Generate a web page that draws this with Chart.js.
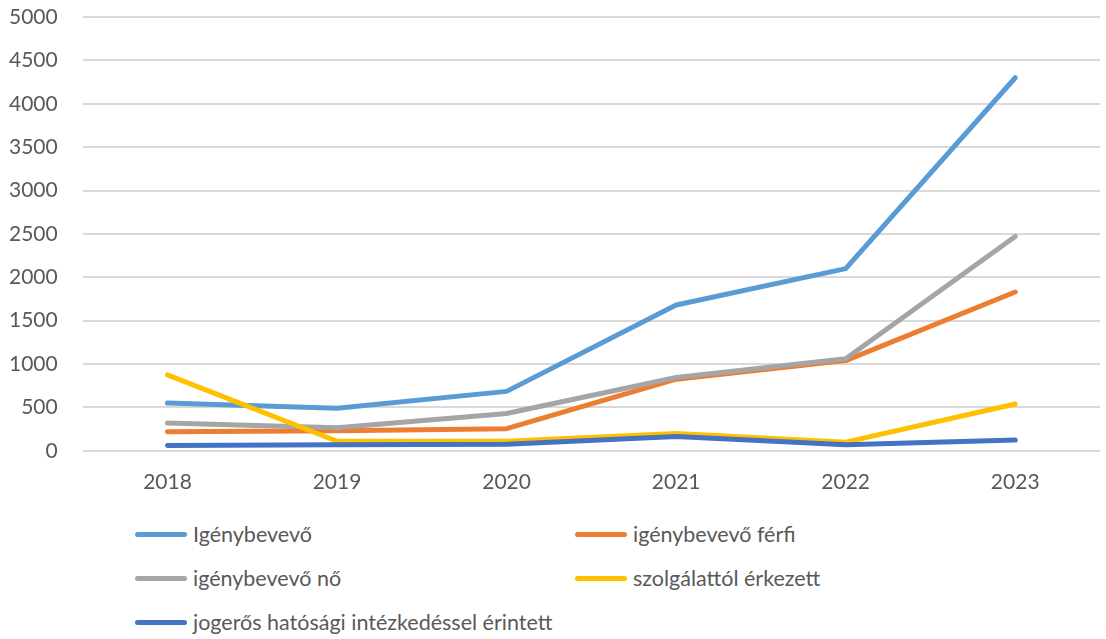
<!DOCTYPE html>
<html>
<head>
<meta charset="utf-8">
<script src="https://cdn.jsdelivr.net/npm/chart.js@4"></script>
<style>
  html, body { margin: 0; background: #fff; font-family: Lato, sans-serif; overflow: hidden; }
  #wrap { position: relative; width: 1106px; height: 500px; }
  #legend { position: absolute; left: 135px; top: 516px; display: grid; grid-template-columns: 440px 440px; row-gap: 8px; }
  .item { display: flex; align-items: center; height: 36px; font-size: 21.5px; color: #595959; }
  .swatch { width: 52px; height: 5px; border-radius: 3px; margin-right: 6px; }
</style>
</head>
<body>
<div id="wrap"><canvas id="chart" width="1106" height="500"></canvas></div>
<div id="legend"></div>
<script>
// Years on the x axis
const years = ["2018", "2019", "2020", "2021", "2022", "2023"];

// Series
const igenybevevo = [550, 490, 685, 1680, 2100, 4300];
const ferfi = [220, 230, 255, 825, 1040, 1830];
const no = [320, 265, 430, 845, 1060, 2470];
const szolgalattol = [875, 110, 110, 200, 100, 540];
const jogeros = [60, 70, 75, 165, 70, 125];

const seriesNames = [
  "Igénybevevő",
  "igénybevevő férfi",
  "igénybevevő nő",
  "szolgálattól érkezett",
  "jogerős hatósági intézkedéssel érintett"
];
const seriesColors = ["#5B9BD5", "#ED7D31", "#A5A5A5", "#FFC000", "#4472C4"];
const seriesData = [igenybevevo, ferfi, no, szolgalattol, jogeros];

const datasets = seriesData.map((d, i) => ({
  label: seriesNames[i],
  data: d,
  borderColor: seriesColors[i],
  backgroundColor: seriesColors[i],
  borderWidth: 5,
  borderCapStyle: "round",
  borderJoinStyle: "round",
  pointRadius: 0,
  tension: 0,
  order: seriesData.length - i  // later series drawn on top, like Excel
}));

const tickFont = { size: 21, family: "Lato" };

const ctx = document.getElementById("chart").getContext("2d");
const chart = new Chart(ctx, {
  type: "line",
  data: { labels: years, datasets },
  options: {
    responsive: false,
    animation: false,
    // negative padding pulls the plot out to the same edges as the original
    layout: { padding: { left: -16, right: 6, top: 0, bottom: -6 } },
    plugins: { legend: { display: false }, tooltip: { enabled: false } },
    scales: {
      x: {
        offset: true,
        grid: { display: false },
        border: { display: false },
        ticks: { color: "#595959", font: tickFont, padding: 11 }
      },
      y: {
        min: 0,
        max: 5000,
        ticks: { stepSize: 500, color: "#595959", font: tickFont, padding: 25, callback: v => String(v) },
        grid: { color: "#D9D9D9", lineWidth: 2, drawTicks: false },
        border: { display: false },
        // tick padding is also added above the top label; keep only the half label height
        afterFit: s => { s.paddingTop = 17; s.paddingBottom = 12; }
      }
    }
  }
});

// HTML legend in two columns, built from the datasets
const legend = document.getElementById("legend");
chart.data.datasets.forEach(ds => {
  const item = document.createElement("div");
  item.className = "item";
  item.innerHTML = `<span class="swatch" style="background:${ds.borderColor}"></span><span>${ds.label}</span>`;
  legend.appendChild(item);
});
</script>
</body>
</html>
